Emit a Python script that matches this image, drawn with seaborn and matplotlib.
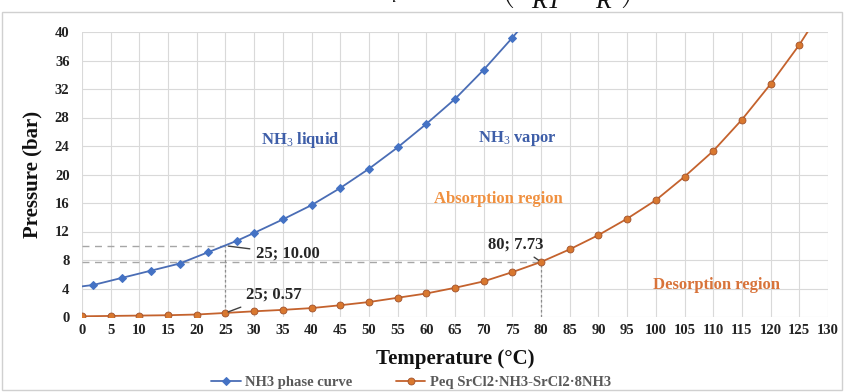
import matplotlib
matplotlib.use("Agg")
import matplotlib.pyplot as plt
import matplotlib.patches as mpatches
import seaborn as sns
import pandas as pd

# ---- data ----
nh3_temp = [0, 2, 7, 12, 17, 22, 27, 30, 35, 40, 45, 50, 55, 60, 65, 70, 75, 80]
nh3_pres = [4.3, 4.5, 5.5, 6.5, 7.5, 9.1, 10.7, 11.8, 13.7, 15.7, 18.1, 20.8,
            23.8, 27.1, 30.6, 34.7, 39.2, 44.0]
srcl_temp = [0, 5, 10, 15, 20, 25, 30, 35, 40, 45, 50, 55, 60, 65, 70, 75, 80,
             85, 90, 95, 100, 105, 110, 115, 120, 125, 130]
srcl_pres = [0.1, 0.15, 0.2, 0.25, 0.35, 0.57, 0.8, 1.0, 1.25, 1.65, 2.1, 2.7,
             3.3, 4.1, 5.0, 6.3, 7.73, 9.5, 11.5, 13.8, 16.4, 19.7, 23.3, 27.7,
             32.7, 38.2, 44.5]
x_ticks = list(range(0, 131, 5))
y_ticks = list(range(0, 41, 4))
series_names = ["NH3 phase curve", "Peq SrCl2·NH3-SrCl2·8NH3"]
points = [(25, 10.00), (25, 0.57), (80, 7.73)]
point_labels = ["25; 10.00", "25; 0.57", "80; 7.73"]
region_labels = ["NH$_3$ liquid", "NH$_3$ vapor", "Absorption region", "Desorption region"]

df_nh3 = pd.DataFrame({"T": nh3_temp, "P": nh3_pres})
df_sr = pd.DataFrame({"T": srcl_temp, "P": srcl_pres})

sns.set_theme(style="whitegrid")
plt.rcParams["font.family"] = ["Liberation Serif", "DejaVu Serif"]
plt.rcParams["mathtext.fontset"] = "custom"
plt.rcParams["mathtext.rm"] = "Liberation Serif"
plt.rcParams["mathtext.it"] = "Liberation Serif:italic"
plt.rcParams["mathtext.bf"] = "Liberation Serif:bold"

W, H = 844, 392
fig = plt.figure(figsize=(W / 100, H / 100), dpi=100)
fig.patch.set_facecolor("white")
ax = fig.add_axes([82 / W, 1 - 317 / H, (828 - 82) / W, (317 - 32) / H])

blue_line = "#4a6db5"
blue_mark = "#4472C4"
orange_line = "#c4622d"
orange_mark = "#d9782f"

sns.lineplot(data=df_nh3, x="T", y="P", ax=ax, color=blue_line, lw=1.3,
             marker="D", markersize=4.2, markerfacecolor=blue_mark,
             markeredgecolor=blue_mark, markevery=list(range(1, len(nh3_temp) - 1)),
             label=series_names[0], legend=False, zorder=4)
sns.lineplot(data=df_sr, x="T", y="P", ax=ax, color=orange_line, lw=1.3,
             marker="o", markersize=5, markerfacecolor=orange_mark,
             markeredgecolor="#a0522d", markeredgewidth=0.6,
             markevery=list(range(0, len(srcl_temp) - 1)),
             label=series_names[1], legend=False, zorder=4)

ax.set_xlim(0, 130)
ax.set_ylim(0, 40)
ax.set_xticks(x_ticks)
ax.set_yticks(y_ticks)
ax.grid(True, color="#d9d9d9", lw=0.8)
for s in ax.spines.values():
    s.set_visible(False)
ax.tick_params(axis="x", length=0, labelsize=10.5, pad=5, labelcolor="#222222")
ax.tick_params(axis="y", length=0, labelsize=10.5, pad=9, labelcolor="#222222")
for lab in ax.get_xticklabels() + ax.get_yticklabels():
    lab.set_fontweight("bold")
ax.set_xlabel("Temperature (°C)", fontsize=15, fontweight="bold", labelpad=9, color="#111111")
ax.set_ylabel("Pressure (bar)", fontsize=15, fontweight="bold", labelpad=9, color="#111111")

# dashed guide lines
dash_kw = dict(color="#a6a6a6", lw=1.0, ls=(0, (5, 4)), zorder=3)
ax.plot([0, points[0][0]], [points[0][1]] * 2, **dash_kw)
ax.plot([0, points[2][0]], [points[2][1]] * 2, **dash_kw)
ax.plot([points[0][0]] * 2, [0, points[0][1]], color="#8c8c8c", lw=0.9, ls=(0, (2, 2)), zorder=3)
ax.plot([points[2][0]] * 2, [0, points[2][1]], color="#8c8c8c", lw=0.9, ls=(0, (2, 2)), zorder=3)

# data labels with leader lines
lab_kw = dict(fontsize=12, fontweight="bold", color="#262626",
              arrowprops=dict(arrowstyle="-", color="#404040", lw=1.0), zorder=6)
ax.annotate(point_labels[0], xy=points[0], xytext=(30.3, 8.9), va="center", ha="left", **lab_kw)
ax.annotate(point_labels[1], xy=points[1], xytext=(28.5, 3.1), va="center", ha="left", **lab_kw)
ax.annotate(point_labels[2], xy=points[2], xytext=(75.5, 10.2), va="center", ha="center", **lab_kw)

# region labels
ax.text(38, 24.9, region_labels[0], fontsize=12, fontweight="bold", color="#3e5ea8", ha="center", va="center")
ax.text(75.8, 25.0, region_labels[1], fontsize=12, fontweight="bold", color="#3e5ea8", ha="center", va="center")
ax.text(72.5, 16.6, region_labels[2], fontsize=12, fontweight="bold", color="#f0903f", ha="center", va="center")
ax.text(110.5, 4.5, region_labels[3], fontsize=12, fontweight="bold", color="#d8733a", ha="center", va="center")

# legend
handles, labels = ax.get_legend_handles_labels()
leg = fig.legend(handles, labels, loc="lower center", bbox_to_anchor=(0.487, -0.026), ncol=2,
                 frameon=False, handlelength=2.0, columnspacing=3.0,
                 handletextpad=0.3, prop={"weight": "bold", "size": 10.5})
for t in leg.get_texts():
    t.set_color("#595959")

# chart border
fig.add_artist(mpatches.Rectangle((2 / W, 2 / H), (W - 4) / W, (H - 14) / H,
                                  transform=fig.transFigure, fill=False,
                                  edgecolor="#d0d0d0", lw=1.0))

# equation at top (cut off by the figure edge, as in the reference)
fig.text(0.59, 1 - 11 / H,
         r"$P_{eq}=P_0\cdot\exp\left(-\dfrac{\Delta H}{RT}+\dfrac{\Delta S}{R}\right)$",
         fontsize=18.5, ha="center", va="bottom", color="#111111")

fig.savefig("out.png", dpi=100, facecolor="white")
